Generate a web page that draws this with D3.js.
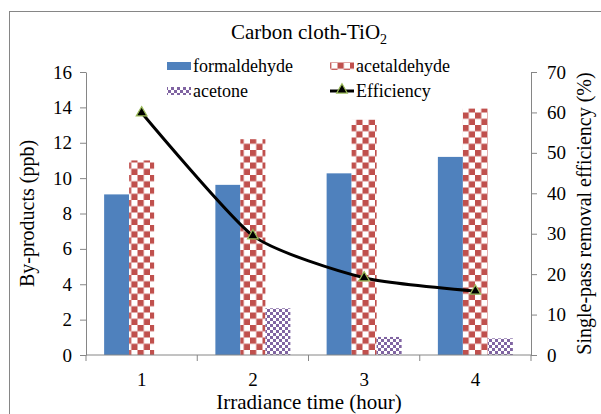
<!DOCTYPE html>
<html><head><meta charset="utf-8">
<script src="https://cdn.jsdelivr.net/npm/d3@7"></script>
<style>body{margin:0;background:#fff}svg{display:block}svg text{font-family:'Liberation Serif','Times New Roman','DejaVu Serif',serif !important;fill:#000}</style>
</head><body><svg id="c" width="601" height="414"></svg>
<script>
const categories = ["1","2","3","4"];
const formaldehyde = [9.08, 9.62, 10.27, 11.2];
const acetaldehyde = [11.0, 12.2, 13.3, 13.93];
const acetone = [0, 2.64, 1.02, 0.94];
const efficiency = [59.9, 29.5, 19.1, 15.8];
const leftTicks = [0,2,4,6,8,10,12,14,16];
const rightTicks = [0,10,20,30,40,50,60,70];

const FF="Liberation Serif";
const svg = d3.select("#c");
const m={l:86,r:531,t:72,b:355};
const defs=svg.append("defs");
const pr=defs.append("pattern").attr("id","pRed").attr("patternUnits","userSpaceOnUse").attr("width",12.5).attr("height",12.5);
pr.append("rect").attr("width",12.5).attr("height",12.5).attr("fill","#fff");
pr.append("rect").attr("width",6.25).attr("height",6.25).attr("fill","#c0504d");
pr.append("rect").attr("x",6.25).attr("y",6.25).attr("width",6.25).attr("height",6.25).attr("fill","#c0504d");
const pp=defs.append("pattern").attr("id","pPur").attr("patternUnits","userSpaceOnUse").attr("width",6).attr("height",6);
pp.append("rect").attr("width",6).attr("height",6).attr("fill","#fff");
pp.append("rect").attr("width",3).attr("height",3).attr("fill","#8064a2");
pp.append("rect").attr("x",3).attr("y",3).attr("width",3).attr("height",3).attr("fill","#8064a2");

svg.append("rect").attr("x",9.5).attr("y",11.5).attr("width",600).attr("height",420).attr("fill","none").attr("stroke","#868686");

const x=d3.scaleBand().domain(categories).range([m.l,m.r]);
const y=d3.scaleLinear().domain([0,16]).range([m.b,m.t]);
const y2=d3.scaleLinear().domain([0,70]).range([m.b,m.t]);
const bw=25;
const x1=d3.scaleBand().domain(["f","a","c"]).range([0,bw*3]);
const off=(x.bandwidth()-bw*3)/2;

const series=[{k:"f",v:formaldehyde,fill:"#4f81bd"},{k:"a",v:acetaldehyde,fill:"url(#pRed)"},{k:"c",v:acetone,fill:"url(#pPur)"}];
series.forEach(s=>{
  svg.append("g").selectAll("rect").data(s.v).join("rect")
   .attr("x",(d,i)=>x(categories[i])+off+x1(s.k))
   .attr("y",d=>y(d)).attr("width",bw).attr("height",d=>y(0)-y(d)).attr("fill",s.fill);
});

// axes
const ax=svg.append("g").attr("transform",`translate(0,${m.b})`);
ax.append("line").attr("x1",m.l).attr("x2",m.r).attr("stroke","#868686");
const bounds=[...categories.map(c=>x(c)), m.r];
ax.selectAll(".t").data(bounds).join("line").attr("x1",d=>d).attr("x2",d=>d).attr("y1",0).attr("y2",6).attr("stroke","#868686");
ax.selectAll("text").data(categories).join("text").attr("x",d=>x(d)+x.bandwidth()/2).attr("y",31).attr("text-anchor","middle").attr("font-size",19).attr("font-family",FF).text(d=>d);

const ly=svg.append("g").attr("transform",`translate(${m.l},0)`)
 .call(d3.axisLeft(y).tickValues(leftTicks).tickSize(6).tickPadding(8).tickSizeOuter(0));
ly.attr("font-family",FF);
ly.select(".domain").attr("stroke","#868686");
ly.selectAll(".tick line").attr("stroke","#868686");
ly.selectAll("text").attr("font-size",19).attr("font-family",FF).attr("fill","#000");

const ry=svg.append("g").attr("transform",`translate(${m.r},0)`)
 .call(d3.axisRight(y2).tickValues(rightTicks).tickSize(6).tickPadding(10).tickSizeOuter(0));
ry.attr("font-family",FF);
ry.select(".domain").attr("stroke","#868686");
ry.selectAll(".tick line").attr("stroke","#868686");
ry.selectAll("text").attr("font-size",19).attr("font-family",FF).attr("fill","#000");

// line
const cx=i=>x(categories[i])+x.bandwidth()/2;
const line=d3.line().x((d,i)=>cx(i)).y(d=>y2(d)).curve(d3.curveCardinal.tension(0.4));
svg.append("path").datum(efficiency).attr("d",line).attr("fill","none").attr("stroke","#000").attr("stroke-width",3);
const tri=d3.symbol().type(d3.symbolTriangle).size(50);
svg.append("g").selectAll("path").data(efficiency).join("path")
 .attr("transform",(d,i)=>`translate(${cx(i)},${y2(d)})`).attr("d",tri)
 .attr("fill","#000").attr("stroke","#9bbb59").attr("stroke-width",1.2);

// title
const t=svg.append("text").attr("x",309).attr("y",39).attr("text-anchor","middle").attr("font-size",21).attr("font-family",FF);
t.append("tspan").text("Carbon cloth-TiO");
t.append("tspan").attr("font-size",14).attr("dy",5).text("2");

// legend
const leg=[{n:"formaldehyde",f:"#4f81bd",x:167,y:66},{n:"acetaldehyde",f:"url(#pRed)",x:330,y:66},{n:"acetone",f:"url(#pPur)",x:167,y:91}];
leg.forEach(l=>{
  svg.append("rect").attr("x",l.x).attr("y",l.y-4).attr("width",24).attr("height",8).attr("fill",l.f);
  svg.append("text").attr("x",l.x+26).attr("y",l.y+6).attr("font-size",18).attr("font-family",FF).text(l.n);
});
svg.append("line").attr("x1",330).attr("x2",354).attr("y1",91).attr("y2",91).attr("stroke","#000").attr("stroke-width",3);
svg.append("path").attr("transform","translate(342,90)").attr("d",tri).attr("fill","#000").attr("stroke","#9bbb59").attr("stroke-width",1.2);
svg.append("text").attr("x",356).attr("y",97).attr("font-size",18).attr("font-family",FF).text("Efficiency");

// axis titles
svg.append("text").attr("x",309).attr("y",409).attr("text-anchor","middle").attr("font-size",21).attr("font-family",FF).text("Irradiance time (hour)");
svg.append("text").attr("transform",`translate(34,${(m.t+m.b)/2}) rotate(-90)`).attr("text-anchor","middle").attr("font-size",20).attr("font-family",FF).text("By-products (ppb)");
svg.append("text").attr("transform",`translate(591,${(m.t+m.b)/2}) rotate(-90)`).attr("text-anchor","middle").attr("font-size",20).attr("font-family",FF).text("Single-pass  removal efficiency (%)");
</script></body></html>
